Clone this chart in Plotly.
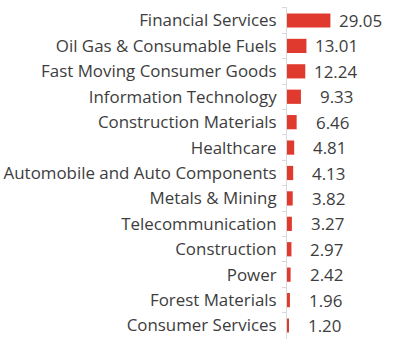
import plotly.graph_objects as go

categories = [
    "Financial Services",
    "Oil Gas & Consumable Fuels",
    "Fast Moving Consumer Goods",
    "Information Technology",
    "Construction Materials",
    "Healthcare",
    "Automobile and Auto Components",
    "Metals & Mining",
    "Telecommunication",
    "Construction",
    "Power",
    "Forest Materials",
    "Consumer Services",
]
values = [29.05, 13.01, 12.24, 9.33, 6.46, 4.81, 4.13, 3.82, 3.27, 2.97, 2.42, 1.96, 1.20]
value_labels = ["29.05", "13.01", "12.24", "9.33", "6.46", "4.81", "4.13", "3.82", "3.27", "2.97", "2.42", "1.96", "1.20"]

FONT = "Open Sans"
TEXT = "#3d3d3d"
SIZE = 16.9

fig = go.Figure(
    go.Bar(
        x=values,
        y=categories,
        orientation="h",
        marker=dict(color="#E03A2E", line=dict(width=0)),
        width=0.56,
        hoverinfo="skip",
    )
)

for c, v, t in zip(categories, values, value_labels):
    fig.add_annotation(
        x=v, y=c, text=t, showarrow=False, xanchor="right", xshift=54,
        font=dict(family=FONT, size=SIZE, color=TEXT),
    )

fig.update_layout(
    width=420,
    height=356,
    margin=dict(l=287, r=18, t=7, b=17, autoexpand=False),
    paper_bgcolor="white",
    plot_bgcolor="white",
    showlegend=False,
    font=dict(family=FONT, size=SIZE, color=TEXT),
)
fig.update_xaxes(range=[0, 77], visible=False, fixedrange=True)
fig.update_yaxes(
    autorange="reversed",
    automargin=False,
    showline=True,
    linecolor="#d9d9d9",
    linewidth=1,
    ticks="outside",
    ticklen=4,
    tickcolor="#d9d9d9",
    tickson="boundaries",
    showgrid=False,
    ticklabelstandoff=6,
    tickfont=dict(family=FONT, size=SIZE, color=TEXT),
    fixedrange=True,
)

fig.write_html(
    "out.html",
    config={"displayModeBar": False},
    post_script="document.body.style.margin='0';",
)
